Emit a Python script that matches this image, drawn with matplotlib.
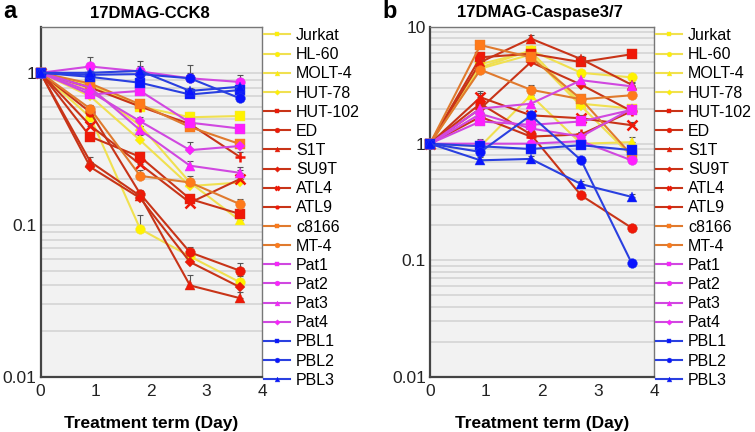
import matplotlib
matplotlib.use("Agg")
import matplotlib.pyplot as plt
import numpy as np
from matplotlib.ticker import LogLocator, NullFormatter

plt.rcParams['font.family'] = ['Liberation Sans', 'DejaVu Sans']

days = [0, 0.9, 1.8, 2.7, 3.6]
series_names = ["Jurkat", "HL-60", "MOLT-4", "HUT-78", "HUT-102", "ED", "S1T", "SU9T",
                "ATL4", "ATL9", "c8166", "MT-4", "Pat1", "Pat2", "Pat3", "Pat4",
                "PBL1", "PBL2", "PBL3"]

# Panel a: 17DMAG-CCK8 (relative viability)
cck8_values = [
    [1, 0.83, 0.60, 0.51, 0.52],    # Jurkat
    [1, 0.51, 0.094, 0.062, 0.042], # HL-60
    [1, 0.78, 0.45, 0.19, 0.107],   # MOLT-4
    [1, 0.70, 0.36, 0.18, 0.19],    # HUT-78
    [1, 0.38, 0.28, 0.148, 0.118],  # HUT-102
    [1, 0.55, 0.16, 0.066, 0.050],  # ED
    [1, 0.26, 0.155, 0.040, 0.033], # S1T
    [1, 0.24, 0.15, 0.057, 0.039],  # SU9T
    [1, 0.45, 0.25, 0.14, 0.20],    # ATL4
    [1, 0.80, 0.60, 0.46, 0.28],    # ATL9
    [1, 0.85, 0.62, 0.44, 0.34],    # c8166
    [1, 0.58, 0.21, 0.19, 0.137],   # MT-4
    [1, 0.72, 0.76, 0.47, 0.43],    # Pat1
    [1, 1.10, 1.02, 0.92, 0.87],    # Pat2
    [1, 0.80, 0.42, 0.245, 0.22],   # Pat3
    [1, 0.75, 0.48, 0.31, 0.33],    # Pat4
    [1, 0.94, 0.86, 0.72, 0.77],    # PBL1
    [1, 0.97, 0.98, 0.92, 0.68],    # PBL2
    [1, 1.00, 1.03, 0.76, 0.81],    # PBL3
]
cck8_err = [
    [0, 0.03, 0.05, 0.03, 0.02],
    [0, 0.03, 0.022, 0.005, 0.004],
    [0, 0.03, 0.03, 0.02, 0.01],
    [0, 0.03, 0.03, 0.02, 0.01],
    [0, 0.02, 0.02, 0.01, 0.01],
    [0, 0.03, 0.01, 0.006, 0.006],
    [0, 0.02, 0.01, 0.007, 0.003],
    [0, 0.02, 0.01, 0.004, 0.003],
    [0, 0.02, 0.02, 0.01, 0.03],
    [0, 0.03, 0.03, 0.03, 0.02],
    [0, 0.03, 0.03, 0.03, 0.02],
    [0, 0.03, 0.02, 0.01, 0.01],
    [0, 0.03, 0.04, 0.08, 0.02],
    [0, 0.17, 0.08, 0.08, 0.10],
    [0, 0.03, 0.03, 0.02, 0.02],
    [0, 0.03, 0.03, 0.04, 0.03],
    [0, 0.03, 0.05, 0.03, 0.03],
    [0, 0.03, 0.05, 0.20, 0.03],
    [0, 0.05, 0.17, 0.03, 0.03],
]

# Panel b: 17DMAG-Caspase3/7 (relative activity)
casp_values = [
    [1, 4.8, 6.2, 2.2, 2.0],        # Jurkat
    [1, 4.5, 6.3, 4.05, 3.7],       # HL-60
    [1, 0.95, 2.6, 1.0, 1.03],      # MOLT-4
    [1, 4.4, 5.8, 2.1, 0.78],       # HUT-78
    [1, 5.5, 5.9, 5.0, 5.84],       # HUT-102
    [1, 2.2, 1.2, 0.36, 0.19],      # ED
    [1, 5.0, 7.96, 5.3, 3.2],       # S1T
    [1, 2.0, 5.0, 3.2, 1.9],        # SU9T
    [1, 2.5, 1.75, 1.65, 1.44],     # ATL4
    [1, 1.7, 1.15, 1.2, 1.9],       # ATL9
    [1, 7.0, 5.5, 2.4, 0.8],        # c8166
    [1, 4.3, 2.9, 2.4, 2.6],        # MT-4
    [1, 1.55, 1.45, 1.55, 1.95],    # Pat1
    [1, 1.0, 1.0, 1.05, 0.72],      # Pat2
    [1, 2.0, 2.2, 3.5, 3.1],        # Pat3
    [1, 1.8, 1.35, 1.15, 2.0],      # Pat4
    [1, 0.95, 0.9, 0.97, 0.88],     # PBL1
    [1, 0.85, 1.75, 0.72, 0.095],   # PBL2
    [1, 0.72, 0.74, 0.45, 0.35],    # PBL3
]
casp_err = [
    [0, 0.2, 0.3, 0.1, 0.1],
    [0, 0.2, 0.4, 0.2, 0.1],
    [0, 0.05, 0.2, 0.05, 0.12],
    [0, 0.2, 0.3, 0.1, 0.05],
    [0, 0.3, 0.3, 0.2, 0.2],
    [0, 0.5, 0.1, 0.02, 0.01],
    [0, 0.3, 0.5, 0.3, 0.2],
    [0, 0.1, 0.3, 0.2, 0.1],
    [0, 0.3, 0.1, 0.1, 0.1],
    [0, 0.1, 0.05, 0.05, 0.1],
    [0, 0.5, 0.3, 0.2, 0.05],
    [0, 0.3, 0.3, 0.1, 0.1],
    [0, 0.1, 0.1, 0.1, 0.1],
    [0, 0.1, 0.05, 0.05, 0.05],
    [0, 0.1, 0.2, 0.2, 0.2],
    [0, 0.1, 0.1, 0.1, 0.1],
    [0, 0.1, 0.05, 0.05, 0.05],
    [0, 0.05, 0.1, 0.05, 0.005],
    [0, 0.05, 0.05, 0.03, 0.02],
]

YEL_M, YEL_L = '#FFF200', '#F0E050'
RED_M, RED_L = '#F01808', '#C83418'
ORA_M, ORA_L = '#FF7A1A', '#E07A2E'
MAG_M, MAG_L = '#FF1EFF', '#D048E0'
BLU_M, BLU_L = '#0A14FF', '#2A40E0'

styles = [
    (YEL_M, YEL_L, 's'), (YEL_M, YEL_L, 'o'), (YEL_M, YEL_L, '^'), (YEL_M, YEL_L, 'D'),
    (RED_M, RED_L, 's'), (RED_M, RED_L, 'o'), (RED_M, RED_L, '^'), (RED_M, RED_L, 'D'),
    (RED_M, RED_L, 'x'), (RED_M, RED_L, '+'),
    (ORA_M, ORA_L, 's'), (ORA_M, ORA_L, 'o'),
    (MAG_M, MAG_L, 's'), (MAG_M, MAG_L, 'o'), (MAG_M, MAG_L, '^'), (MAG_M, MAG_L, 'D'),
    (BLU_M, BLU_L, 's'), (BLU_M, BLU_L, 'o'), (BLU_M, BLU_L, '^'),
]

fig = plt.figure(figsize=(7.55, 4.32), dpi=100)

def draw_panel(rect, values, errs, ylim, title, letter, letter_x, title_x):
    ax = fig.add_axes(rect)
    ax.set_facecolor('#F2F2F2')
    ax.set_yscale('log')
    ax.set_xlim(0, 4)
    ax.set_ylim(*ylim)
    ax.yaxis.set_major_locator(LogLocator(base=10, numticks=10))
    ax.yaxis.set_minor_locator(LogLocator(base=10, subs=np.arange(2, 10), numticks=10))
    ax.yaxis.set_minor_formatter(NullFormatter())
    ax.grid(True, which='both', axis='y', color='#D2D2D2', lw=1.1, zorder=0)
    ax.set_axisbelow(True)
    ax.set_xticks([0, 1, 2, 3, 4])
    ax.set_yticks([0.01, 0.1, 1] + ([10] if ylim[1] >= 10 else []))
    ax.set_yticklabels(['0.01', '0.1', '1'] + (['10'] if ylim[1] >= 10 else []))
    ax.tick_params(axis='both', which='both', length=0, labelsize=12.5, pad=3,
                   labelcolor='#222222')
    ax.tick_params(axis='x', pad=5)
    for s in ax.spines.values():
        s.set_color('#777777')
        s.set_linewidth(1.0)
    ax.spines['left'].set_color('#444444')
    ax.spines['left'].set_linewidth(1.6)
    ax.spines['bottom'].set_color('#444444')
    ax.spines['bottom'].set_linewidth(1.6)
    handles = []
    for name, vals, er, (mc, lc, mk) in zip(series_names, values, errs, styles):
        vals = np.array(vals)
        er = np.array(er)
        ax.errorbar(days, vals, yerr=[np.zeros_like(er), er], fmt='none',
                    ecolor='#555555', elinewidth=0.8, capsize=2.5, capthick=0.8, zorder=2)
        mew = 1.8 if mk in ('x', '+') else 0.3
        ms = 7 if mk not in ('D',) else 5.5
        h, = ax.plot(days, vals, color=lc, lw=1.5, marker=mk, markersize=ms,
                     markerfacecolor=mc, markeredgecolor=mc if mk in ('x', '+') else lc,
                     markeredgewidth=mew, label=name, zorder=3, clip_on=False)
        handles.append(h)
    ax.set_xlabel('Treatment term (Day)', fontsize=12.5, fontweight='bold', labelpad=12)
    fig.text(title_x, 1 - 13 / 432, title, fontsize=12, fontweight='bold',
             ha='center', va='center')
    fig.text(letter_x, 1 - 11 / 432, letter, fontsize=17, fontweight='bold',
             ha='left', va='center')
    ax.legend(handles=handles, loc='upper left', bbox_to_anchor=(1.01, 0.997),
              frameon=False, fontsize=11.5, handlelength=1.6, handletextpad=0.4,
              labelspacing=0.26, markerscale=0.5, borderaxespad=0.0,
              borderpad=0.0)
    return ax

W, H = 755, 432
draw_panel([40.5 / W, 1 - 377 / H, 221.5 / W, 350 / H], cck8_values, cck8_err,
           (0.01, 2.0), '17DMAG-CCK8', 'a', 3 / W, 150 / W)
draw_panel([430 / W, 1 - 377 / H, 224 / W, 350 / H], casp_values, casp_err,
           (0.01, 10), '17DMAG-Caspase3/7', 'b', 382 / W, 540 / W)

fig.savefig('out.png', dpi=100)
